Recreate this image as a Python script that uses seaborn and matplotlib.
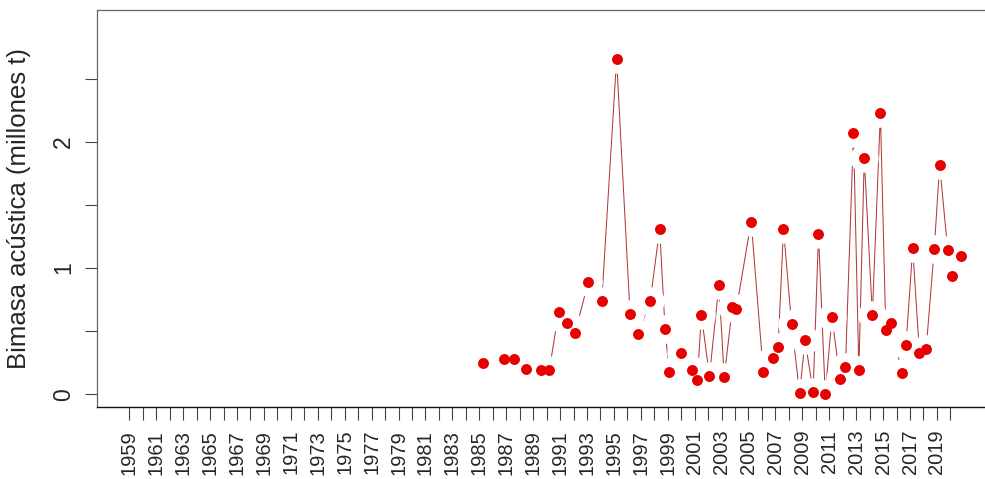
import numpy as np
import pandas as pd
import matplotlib
matplotlib.use("Agg")
import matplotlib.pyplot as plt
import seaborn as sns

# --- Data ---
survey_year = [
    1985.3, 1986.8, 1987.6, 1988.5, 1989.6, 1990.2, 1990.9, 1991.5, 1992.1, 1993.1,
    1994.1, 1995.2, 1996.2, 1996.8, 1997.7, 1998.4, 1998.8, 1999.1, 2000.0, 2000.8,
    2001.2, 2001.5, 2002.1, 2002.8, 2003.2, 2003.8, 2004.1, 2005.2, 2006.1, 2006.8,
    2007.2, 2007.6, 2008.2, 2008.8, 2009.2, 2009.8, 2010.2, 2010.7, 2011.2, 2011.8,
    2012.2, 2012.8, 2013.2, 2013.6, 2014.2, 2014.8, 2015.2, 2015.6, 2016.4, 2016.7,
    2017.2, 2017.7, 2018.2, 2018.8, 2019.2, 2019.8, 2020.1, 2020.8,
]
biomass = [
    0.245, 0.277, 0.277, 0.198, 0.192, 0.192, 0.652, 0.562, 0.483, 0.889,
    0.739, 2.655, 0.638, 0.477, 0.739, 1.309, 0.520, 0.179, 0.330, 0.192,
    0.113, 0.628, 0.145, 0.865, 0.139, 0.689, 0.678, 1.367, 0.174, 0.287,
    0.372, 1.309, 0.557, 0.008, 0.430, 0.020, 1.269, 0.002, 0.610, 0.119,
    0.214, 2.067, 0.192, 1.873, 0.628, 2.227, 0.509, 0.567, 0.166, 0.390,
    1.156, 0.325, 0.361, 1.150, 1.818, 1.142, 0.937, 1.093,
]
tick_years = list(range(1959, 2021))
tick_labels = [str(y) if y % 2 == 1 else "" for y in tick_years]
y_major = [0, 1, 2]
y_minor = [0.5, 1.5, 2.5]
y_label = "Bimasa acústica (millones t)"

df = pd.DataFrame({"year": survey_year, "biomass": biomass})

# --- Style ---
sns.set_style("white")
plt.rcParams["font.family"] = ["Liberation Sans", "DejaVu Sans"]

fig = plt.figure(figsize=(9.85, 4.79), dpi=100)
ax = fig.add_axes([97 / 985, 1 - 407 / 479, 888 / 985, 397 / 479])

# line, then white discs to open the gaps around points (R type="b"), then points
sns.lineplot(data=df, x="year", y="biomass", sort=False, estimator=None,
             color="#b03a3a", linewidth=0.75, ax=ax, zorder=1)
sns.scatterplot(data=df, x="year", y="biomass", color="white", s=420,
                linewidth=0, ax=ax, zorder=2)
sns.scatterplot(data=df, x="year", y="biomass", color="#e60000", s=62,
                linewidth=0, ax=ax, zorder=3)

ax.set_xlim(1956.6, 2022.57)
ax.set_ylim(-0.1006, 3.043)

ax.set_xticks(tick_years)
ax.set_xticklabels(tick_labels, rotation=90, fontsize=14.5)
ax.set_yticks(y_major)
ax.set_yticks(y_minor, minor=True)
ax.set_yticklabels([str(v) for v in y_major], fontsize=16.5, rotation=90, va="center")

ax.tick_params(axis="x", which="major", direction="out", length=9.4, width=0.8,
               color="#444444", pad=7, bottom=True)
ax.tick_params(axis="y", which="both", direction="out", length=8.6, width=0.8,
               color="#444444", pad=7, left=True)

ax.set_xlabel("")
ax.set_ylabel(y_label, fontsize=18.5)
ax.yaxis.set_label_coords(-0.074, 0.5)

for side in ["left", "top"]:
    ax.spines[side].set_color("#666666")
    ax.spines[side].set_linewidth(0.9)
ax.spines["bottom"].set_color("#111111")
ax.spines["bottom"].set_linewidth(1.0)
ax.spines["right"].set_visible(False)

fig.savefig("out.png", dpi=100, facecolor="white")
